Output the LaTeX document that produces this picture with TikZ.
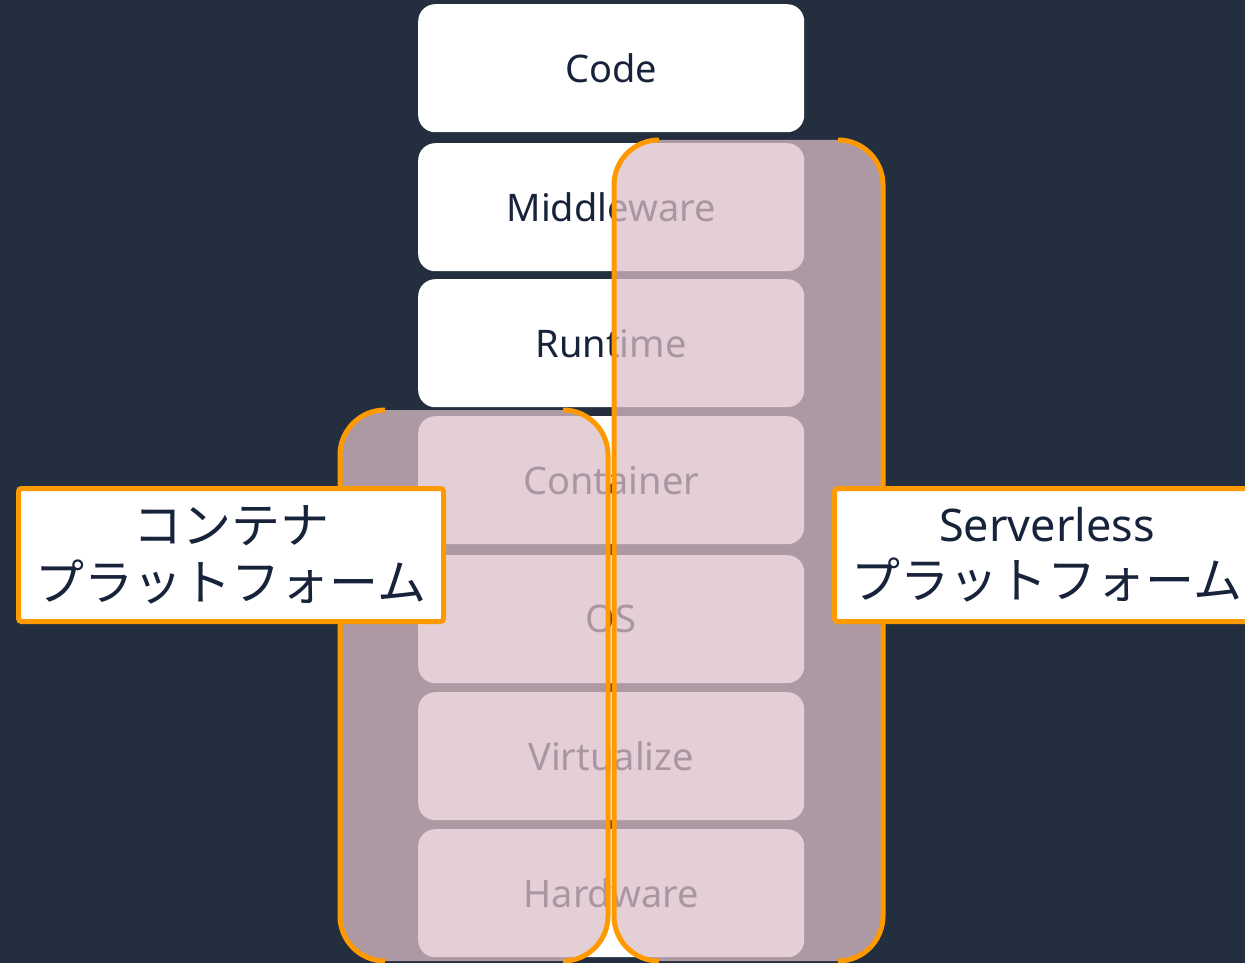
\documentclass[tikz,border=0pt]{standalone}
\usepackage{fontspec}
\setmainfont{Noto Sans}
\newfontfamily\jpfont{Noto Sans CJK JP}
\definecolor{ink}{RGB}{35,47,62}
\definecolor{navy}{RGB}{22,35,58}
\definecolor{awsorange}{RGB}{255,153,0}
\definecolor{veil}{RGB}{221,191,200}
\begin{document}
\begin{tikzpicture}[x=1pt,y=-1pt,
  layer/.style={fill=white, rounded corners=17pt, minimum width=386pt, minimum height=128pt,
    anchor=north west, inner sep=0pt, text=navy, font=\fontsize{38}{40}\selectfont},
  veilbox/.style={fill=veil, fill opacity=0.74, rounded corners=45pt},
  bracket/.style={draw=awsorange, line width=5pt, rounded corners=45pt},
  tag/.style={fill=white, draw=awsorange, line width=5pt, rounded corners=3pt,
    anchor=north west, align=center, text=navy, inner sep=0pt,
    minimum width=425pt, minimum height=133pt}
]
% canvas
\fill[ink] (0,0) rectangle (1245,963);
\useasboundingbox (0,0) rectangle (1245,963);
\clip (0,0) rectangle (1245,963);

% software stack
\node[layer] (code)  at (418,4)   {Code};
\node[layer] (mid)   at (418,143) {Middleware};
\node[layer] (run)   at (418,279) {Runtime};
\node[layer] (cont)  at (418,416) {Container};
\node[layer] (os)    at (418,555) {OS};
\node[layer] (virt)  at (418,692) {Virtualize};
\node[layer] (hw)    at (418,829) {Hardware};

% managed ranges
\fill[veilbox] (340,410) rectangle (608,961);
\fill[veilbox] (614,140) rectangle (883,961);

% bracket outlines
\draw[bracket] (385,410) -- (340,410) -- (340,961) -- (385,961);
\draw[bracket] (563,410) -- (608,410) -- (608,961) -- (563,961);
\draw[bracket] (659,140) -- (614,140) -- (614,961) -- (659,961);
\draw[bracket] (838,140) -- (883,140) -- (883,961) -- (838,961);

% captions
\node[tag, font=\jpfont\fontsize{49}{57}\selectfont] (ctag) at (16,486)
  {コンテナ\\プラットフォーム};
\node[tag, font=\fontsize{45}{57}\selectfont] (stag) at (832,486)
  {Serverless\\{\jpfont\fontsize{49}{57}\selectfont プラットフォーム}};
\end{tikzpicture}
\end{document}
